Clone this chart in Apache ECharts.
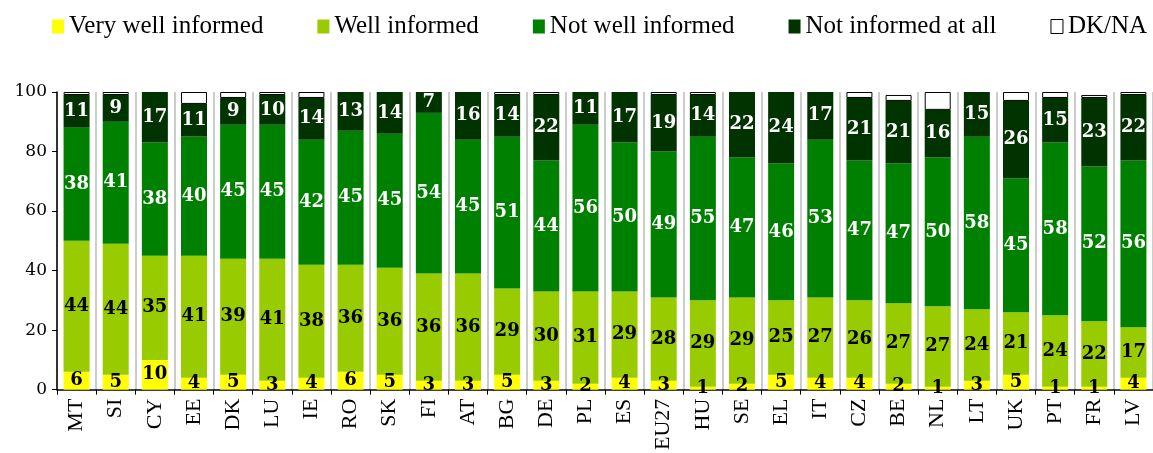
<!DOCTYPE html>
<html>
<head>
<meta charset="utf-8">
<script src="https://cdn.jsdelivr.net/npm/echarts@6/dist/echarts.min.js"></script>
<style>
  html, body { margin: 0; padding: 0; background: #fff; }
  #chart { width: 1153px; height: 453px; }
</style>
</head>
<body>
<div id="chart"></div>
<script>
// countries, in the order of the picture
const countries = ['MT', 'SI', 'CY', 'EE', 'DK', 'LU', 'IE', 'RO', 'SK', 'FI', 'AT', 'BG', 'DE', 'PL',
  'ES', 'EU27', 'HU', 'SE', 'EL', 'IT', 'CZ', 'BE', 'NL', 'LT', 'UK', 'PT', 'FR', 'LV'];

const veryWell    = [6, 5, 10, 4, 5, 3, 4, 6, 5, 3, 3, 5, 3, 2, 4, 3, 1, 2, 5, 4, 4, 2, 1, 3, 5, 1, 1, 4];
const well        = [44, 44, 35, 41, 39, 41, 38, 36, 36, 36, 36, 29, 30, 31, 29, 28, 29, 29, 25, 27, 26, 27, 27, 24, 21, 24, 22, 17];
const notWell     = [38, 41, 38, 40, 45, 45, 42, 45, 45, 54, 45, 51, 44, 56, 50, 49, 55, 47, 46, 53, 47, 47, 50, 58, 45, 58, 52, 56];
const notAtAll    = [11, 9, 17, 11, 9, 10, 14, 13, 14, 7, 16, 14, 22, 11, 17, 19, 14, 22, 24, 17, 21, 21, 16, 15, 26, 15, 23, 22];
const dkna        = [1, 1, 0, 4, 2, 1, 2, 1, 1, 0, 1, 1, 1, 1, 1, 1, 1, 1, 0, 0, 2, 2, 6, 1, 3, 2, 1, 1];

const yTicks = [0, 20, 40, 60, 80, 100];

const chart = echarts.init(document.getElementById('chart'));

function bar(name, data, color, labelColor) {
  return {
    name: name,
    type: 'bar',
    stack: 'all',
    data: data.map(v => (v === 0 ? '-' : v)),
    barWidth: 26,
    itemStyle: { color: color },
    label: {
      show: labelColor != null,
      position: 'inside',
      color: labelColor,
      fontFamily: 'DejaVu Serif',
      fontWeight: 'bold',
      fontSize: 18
    }
  };
}

const series = [
  bar('Very well informed', veryWell, '#ffff00', '#000'),
  bar('Well informed', well, '#99cc00', '#000'),
  bar('Not well informed', notWell, '#008000', '#fff'),
  bar('Not informed at all', notAtAll, '#003300', '#fff'),
  bar('DK/NA', dkna, '#ffffff', null)
];
series[4].itemStyle = { color: '#ffffff', borderColor: '#000', borderWidth: 1 };

chart.setOption({
  animation: false,
  legend: {
    left: 47,
    top: 9,
    itemWidth: 12,
    itemHeight: 14,
    itemGap: 54,
    icon: 'rect',
    textStyle: { fontFamily: 'Liberation Serif', fontSize: 25, color: '#000' },
    data: [
      { name: 'Very well informed' },
      { name: 'Well informed' },
      { name: 'Not well informed' },
      { name: 'Not informed at all' },
      { name: 'DK/NA', itemStyle: { color: '#fff', borderColor: '#000', borderWidth: 1 } }
    ]
  },
  grid: { left: 57, right: 0, top: 92, bottom: 61 },
  xAxis: {
    type: 'category',
    data: countries,
    axisLine: { lineStyle: { color: '#000', width: 1.5 } },
    axisTick: { show: true, length: 5, lineStyle: { color: '#000' } },
    axisLabel: {
      rotate: 90,
      margin: 9,
      color: '#000',
      fontFamily: 'Liberation Serif',
      fontSize: 22
    },
    splitLine: { show: true, lineStyle: { color: '#cccccc', width: 2 } }
  },
  yAxis: {
    type: 'value',
    min: yTicks[0],
    max: yTicks[yTicks.length - 1],
    interval: 20,
    axisLine: { show: true, lineStyle: { color: '#000', width: 1.5 } },
    axisTick: { show: true, length: 5, lineStyle: { color: '#000' } },
    axisLabel: { color: '#000', fontFamily: 'DejaVu Serif', fontSize: 17, margin: 10 },
    splitLine: { show: false }
  },
  series: series
});
</script>
</body>
</html>
